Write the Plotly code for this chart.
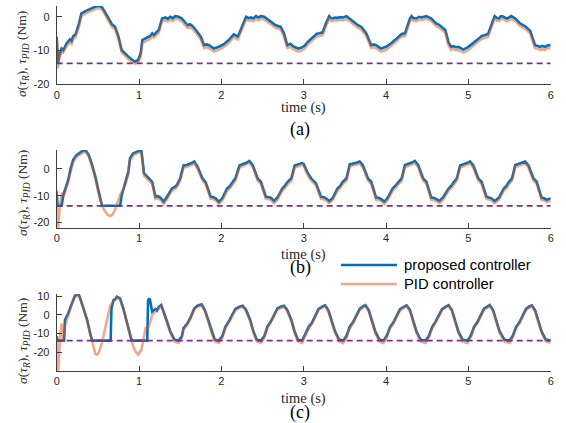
import plotly.graph_objects as go

# ---------------- data (time s, torque Nm) ----------------
a_proposed = [(0.00,-5.9),(0.015,-13.8),(0.03,-11.5),(0.06,-9.4),(0.08,-9.9),(0.12,-7.9),(0.16,-6.7),(0.18,-7.2),(0.20,-5.8),(0.23,-5.2),(0.27,-2.0),(0.30,1.0),(0.35,1.7),(0.39,2.2),(0.43,2.5),(0.47,3.0),(0.51,3.3),(0.55,2.8),(0.59,1.2),(0.63,-0.5),(0.67,-2.2),(0.71,-3.0),(0.75,-5.9),(0.79,-9.9),(0.83,-11.0),(0.87,-11.8),(0.91,-12.6),(0.95,-13.3),(0.99,-12.8),(1.02,-10.8),(1.04,-6.9),(1.10,-6.1),(1.14,-5.6),(1.16,-4.9),(1.18,-5.4),(1.24,-3.9),(1.28,-0.5),(1.32,-0.2),(1.35,-0.6),(1.38,0.0),(1.41,-0.4),(1.44,0.2),(1.48,0.0),(1.52,-0.5),(1.59,-2.5),(1.62,-2.2),(1.65,-2.8),(1.69,-3.9),(1.75,-5.9),(1.79,-8.4),(1.82,-8.2),(1.85,-8.4),(1.91,-9.4),(1.97,-8.9),(2.03,-8.1),(2.09,-6.9),(2.15,-5.2),(2.20,-5.9),(2.26,-2.5),(2.30,0.0),(2.33,-0.4),(2.36,-0.2),(2.39,-0.5),(2.42,0.2),(2.45,-0.2),(2.48,0.2),(2.52,0.0),(2.58,-1.0),(2.62,-1.8),(2.66,-2.5),(2.72,-3.0),(2.76,-4.9),(2.80,-8.4),(2.84,-8.0),(2.87,-8.7),(2.93,-9.4),(2.97,-9.2),(3.01,-8.6),(3.05,-7.4),(3.09,-6.6),(3.13,-5.7),(3.16,-5.0),(3.19,-4.9),(3.23,-4.6),(3.27,-2.0),(3.31,0.2),(3.33,-0.4),(3.35,-0.5),(3.38,-0.2),(3.41,-0.3),(3.45,-0.1),(3.48,-0.2),(3.52,0.2),(3.58,-1.0),(3.62,-1.8),(3.66,-2.5),(3.70,-3.0),(3.73,-3.8),(3.76,-4.9),(3.82,-8.4),(3.85,-8.2),(3.88,-8.4),(3.94,-9.4),(4.00,-8.9),(4.06,-7.9),(4.13,-6.4),(4.16,-5.6),(4.19,-5.1),(4.23,-4.9),(4.29,-0.5),(4.31,0.2),(4.33,-0.4),(4.37,-0.5),(4.40,0.0),(4.43,-0.2),(4.46,0.1),(4.49,0.2),(4.55,-0.5),(4.61,-2.0),(4.64,-2.3),(4.67,-2.8),(4.72,-3.9),(4.76,-7.7),(4.79,-8.9),(4.82,-8.7),(4.85,-9.0),(4.88,-8.9),(4.94,-9.7),(5.00,-8.9),(5.04,-8.2),(5.08,-7.4),(5.12,-6.6),(5.16,-5.7),(5.20,-5.4),(5.24,-5.1),(5.30,-1.0),(5.32,0.2),(5.35,-0.4),(5.37,-0.5),(5.39,0.1),(5.41,0.2),(5.44,-0.2),(5.47,-0.5),(5.50,-0.1),(5.52,0.2),(5.57,-0.5),(5.60,-1.4),(5.63,-2.0),(5.69,-2.8),(5.72,-3.4),(5.75,-4.1),(5.81,-8.4),(5.84,-8.7),(5.87,-8.9),(5.90,-8.6),(5.93,-8.9),(5.96,-8.5),(6.00,-8.4)]

a_pid = [(0.00,-6.5),(0.015,-15.3),(0.03,-12.5),(0.06,-10.2),(0.08,-10.6),(0.12,-8.7),(0.16,-7.5),(0.18,-8.0),(0.20,-6.6),(0.23,-6.0),(0.27,-3.0),(0.30,0.2),(0.35,1.0),(0.39,1.5),(0.43,1.8),(0.47,2.3),(0.51,2.6),(0.55,2.2),(0.59,0.6),(0.63,-1.2),(0.67,-2.9),(0.71,-3.7),(0.75,-6.5),(0.79,-10.6),(0.83,-11.7),(0.87,-12.5),(0.91,-13.3),(0.95,-13.9),(0.99,-13.6),(1.02,-11.8),(1.04,-7.8),(1.10,-6.9),(1.14,-6.4),(1.16,-5.7),(1.18,-6.2),(1.24,-4.7),(1.28,-1.3),(1.32,-1.0),(1.35,-1.4),(1.38,-0.8),(1.41,-1.2),(1.44,-0.6),(1.48,-0.8),(1.52,-1.3),(1.59,-3.3),(1.62,-3.0),(1.65,-3.6),(1.69,-4.7),(1.75,-6.7),(1.79,-9.2),(1.82,-9.0),(1.85,-9.3),(1.91,-10.3),(1.97,-9.8),(2.03,-8.9),(2.09,-7.7),(2.15,-6.0),(2.20,-6.7),(2.26,-3.3),(2.30,-0.8),(2.33,-1.2),(2.36,-1.0),(2.39,-1.3),(2.42,-0.6),(2.45,-1.0),(2.48,-0.6),(2.52,-0.8),(2.58,-1.8),(2.62,-2.6),(2.66,-3.3),(2.72,-3.8),(2.76,-5.7),(2.80,-9.2),(2.84,-8.9),(2.87,-9.6),(2.93,-10.3),(2.97,-10.1),(3.01,-9.4),(3.05,-8.2),(3.09,-7.4),(3.13,-6.5),(3.16,-5.8),(3.19,-5.7),(3.23,-5.4),(3.27,-2.8),(3.31,-0.6),(3.33,-1.2),(3.35,-1.3),(3.38,-1.0),(3.41,-1.1),(3.45,-0.9),(3.48,-1.0),(3.52,-0.6),(3.58,-1.8),(3.62,-2.6),(3.66,-3.3),(3.70,-3.8),(3.73,-4.6),(3.76,-5.7),(3.82,-9.2),(3.85,-9.0),(3.88,-9.3),(3.94,-10.3),(4.00,-9.8),(4.06,-8.7),(4.13,-7.2),(4.16,-6.4),(4.19,-5.9),(4.23,-5.7),(4.29,-1.3),(4.31,-0.6),(4.33,-1.2),(4.37,-1.3),(4.40,-0.8),(4.43,-1.0),(4.46,-0.7),(4.49,-0.6),(4.55,-1.3),(4.61,-2.8),(4.64,-3.1),(4.67,-3.6),(4.72,-4.7),(4.76,-8.5),(4.79,-9.8),(4.82,-9.5),(4.85,-9.9),(4.88,-9.8),(4.94,-10.6),(5.00,-9.8),(5.04,-9.0),(5.08,-8.2),(5.12,-7.4),(5.16,-6.5),(5.20,-6.2),(5.24,-5.9),(5.30,-1.8),(5.32,-0.6),(5.35,-1.2),(5.37,-1.3),(5.39,-0.7),(5.41,-0.6),(5.44,-1.0),(5.47,-1.3),(5.50,-0.9),(5.52,-0.6),(5.57,-1.3),(5.60,-2.2),(5.63,-2.8),(5.69,-3.6),(5.72,-4.2),(5.75,-4.9),(5.81,-9.3),(5.84,-9.6),(5.87,-9.8),(5.90,-9.4),(5.93,-9.8),(5.96,-9.3),(6.00,-9.2)]

b_proposed = [(0.00,-8.5),(0.01,-13.8),(0.06,-13.8),(0.08,-9.8),(0.12,-6.0),(0.14,-4.1),(0.17,0.2),(0.20,3.4),(0.24,5.2),(0.30,6.5),(0.35,7.1),(0.39,5.2),(0.43,1.5),(0.47,-2.9),(0.51,-8.5),(0.55,-13.8),(0.77,-13.8),(0.79,-9.8),(0.83,-5.4),(0.87,-1.0),(0.89,4.0),(0.93,5.9),(0.97,6.4),(1.00,6.8),(1.03,6.6),(1.06,-1.6),(1.09,-2.6),(1.12,-3.5),(1.16,-4.8),(1.20,-10.4),(1.23,-10.2),(1.26,-10.8),(1.30,-12.3),(1.34,-10.4),(1.40,-7.3),(1.43,-6.8),(1.46,-6.0),(1.50,-3.5),(1.54,1.3),(1.58,1.5),(1.61,1.8),(1.64,2.2),(1.67,2.8),(1.71,0.9),(1.77,-3.5),(1.81,-5.0),(1.87,-10.4),(1.90,-10.5),(1.93,-11.0),(1.97,-12.3),(2.01,-11.0),(2.07,-7.3),(2.10,-6.6),(2.13,-5.4),(2.17,-3.5),(2.22,1.3),(2.25,1.6),(2.28,2.1),(2.31,2.4),(2.34,3.0),(2.38,1.5),(2.44,-3.5),(2.48,-4.8),(2.54,-10.4),(2.57,-10.5),(2.60,-10.8),(2.64,-12.0),(2.68,-10.8),(2.74,-7.3),(2.77,-6.4),(2.80,-5.0),(2.85,-3.5),(2.89,1.3),(2.92,1.6),(2.95,1.8),(2.98,2.2),(3.00,1.9),(3.05,-1.6),(3.09,-3.5),(3.15,-5.4),(3.21,-10.4),(3.24,-10.5),(3.27,-11.0),(3.31,-12.0),(3.35,-11.0),(3.41,-7.3),(3.44,-6.5),(3.47,-5.0),(3.52,-3.5),(3.56,1.8),(3.59,1.9),(3.62,2.1),(3.65,2.4),(3.68,2.8),(3.72,1.3),(3.78,-3.5),(3.82,-4.8),(3.88,-10.8),(3.91,-10.8),(3.94,-11.3),(3.98,-12.3),(4.02,-10.8),(4.08,-7.3),(4.11,-6.4),(4.15,-4.8),(4.19,-3.5),(4.23,1.5),(4.26,1.7),(4.29,2.1),(4.32,2.5),(4.35,3.0),(4.39,1.5),(4.45,-3.5),(4.49,-4.8),(4.55,-10.8),(4.58,-10.8),(4.61,-11.3),(4.65,-12.0),(4.69,-10.8),(4.76,-7.3),(4.79,-6.4),(4.82,-5.0),(4.86,-3.5),(4.90,1.3),(4.93,1.6),(4.96,1.9),(4.99,2.3),(5.02,2.8),(5.06,1.3),(5.12,-3.5),(5.16,-4.8),(5.22,-10.4),(5.25,-10.6),(5.28,-11.0),(5.32,-12.0),(5.37,-10.8),(5.43,-7.3),(5.46,-6.5),(5.49,-5.0),(5.53,-3.5),(5.57,1.5),(5.60,1.8),(5.63,2.1),(5.66,2.5),(5.69,2.8),(5.73,1.3),(5.79,-3.5),(5.83,-4.8),(5.89,-10.8),(5.92,-11.0),(5.95,-11.6),(6.00,-11.0)]

b_pid = [(0.00,-8.0),(0.008,-22.0),(0.02,-22.0),(0.035,-15.0),(0.06,-9.0),(0.09,-9.8),(0.12,-6.8),(0.14,-5.0),(0.17,-0.8),(0.20,2.5),(0.24,4.5),(0.30,5.8),(0.35,6.4),(0.39,4.6),(0.43,0.8),(0.47,-3.7),(0.51,-9.3),(0.55,-13.5),(0.58,-15.6),(0.62,-17.2),(0.65,-17.6),(0.68,-17.0),(0.71,-15.2),(0.74,-12.3),(0.77,-9.8),(0.80,-8.0),(0.83,-6.2),(0.87,-2.0),(0.89,3.0),(0.93,5.2),(0.97,5.8),(1.00,6.2),(1.03,6.0),(1.06,-2.4),(1.09,-3.4),(1.12,-4.3),(1.16,-5.6),(1.20,-11.2),(1.23,-11.0),(1.26,-11.6),(1.30,-13.1),(1.34,-11.3),(1.40,-8.1),(1.43,-7.6),(1.46,-6.8),(1.50,-4.4),(1.54,0.5),(1.58,0.8),(1.61,1.1),(1.64,1.5),(1.67,2.1),(1.71,0.2),(1.77,-4.3),(1.81,-5.8),(1.87,-11.2),(1.90,-11.3),(1.93,-11.8),(1.97,-13.1),(2.01,-11.9),(2.07,-8.1),(2.10,-7.4),(2.13,-6.2),(2.17,-4.4),(2.22,0.5),(2.25,0.9),(2.28,1.4),(2.31,1.7),(2.34,2.3),(2.38,0.8),(2.44,-4.3),(2.48,-5.6),(2.54,-11.2),(2.57,-11.3),(2.60,-11.6),(2.64,-12.8),(2.68,-11.6),(2.74,-8.1),(2.77,-7.2),(2.80,-5.8),(2.85,-4.4),(2.89,0.5),(2.92,0.9),(2.95,1.1),(2.98,1.5),(3.00,1.2),(3.05,-2.4),(3.09,-4.3),(3.15,-6.2),(3.21,-11.2),(3.24,-11.3),(3.27,-11.8),(3.31,-12.8),(3.35,-11.8),(3.41,-8.1),(3.44,-7.3),(3.47,-5.8),(3.52,-4.4),(3.56,1.0),(3.59,1.2),(3.62,1.4),(3.65,1.7),(3.68,2.1),(3.72,0.5),(3.78,-4.3),(3.82,-5.6),(3.88,-11.6),(3.91,-11.6),(3.94,-12.1),(3.98,-13.1),(4.02,-11.6),(4.08,-8.1),(4.11,-7.2),(4.15,-5.6),(4.19,-4.4),(4.23,0.7),(4.26,1.0),(4.29,1.4),(4.32,1.8),(4.35,2.3),(4.39,0.8),(4.45,-4.3),(4.49,-5.6),(4.55,-11.6),(4.58,-11.6),(4.61,-12.1),(4.65,-12.8),(4.69,-11.6),(4.76,-8.1),(4.79,-7.2),(4.82,-5.8),(4.86,-4.4),(4.90,0.5),(4.93,0.9),(4.96,1.2),(4.99,1.6),(5.02,2.1),(5.06,0.5),(5.12,-4.3),(5.16,-5.6),(5.22,-11.2),(5.25,-11.4),(5.28,-11.8),(5.32,-12.8),(5.37,-11.6),(5.43,-8.1),(5.46,-7.3),(5.49,-5.8),(5.53,-4.4),(5.57,0.7),(5.60,1.1),(5.63,1.4),(5.66,1.8),(5.69,2.1),(5.73,0.5),(5.79,-4.3),(5.83,-5.6),(5.89,-11.6),(5.92,-11.8),(5.95,-12.4),(6.00,-11.8)]

c_proposed = [(0.00,-11.5),(0.01,-13.8),(0.09,-13.8),(0.10,-2.7),(0.14,0.9),(0.18,6.2),(0.22,10.3),(0.24,10.8),(0.26,11.3),(0.28,9.8),(0.33,3.5),(0.37,-2.7),(0.41,-10.6),(0.43,-13.8),(0.655,-13.8),(0.665,3.5),(0.69,8.0),(0.71,8.5),(0.73,9.8),(0.77,8.9),(0.81,3.5),(0.85,-3.5),(0.89,-10.6),(0.91,-13.8),(1.10,-13.8),(1.11,8.0),(1.13,8.9),(1.16,1.8),(1.18,2.5),(1.20,3.2),(1.22,2.4),(1.24,4.4),(1.27,5.3),(1.30,1.8),(1.34,-3.5),(1.38,-8.9),(1.43,-13.3),(1.48,-13.8),(1.52,-11.5),(1.54,-7.1),(1.59,-4.4),(1.63,-0.9),(1.67,3.5),(1.71,5.0),(1.76,5.7),(1.80,2.7),(1.84,-2.7),(1.88,-8.9),(1.92,-13.3),(1.97,-13.8),(2.01,-11.5),(2.05,-6.2),(2.09,-3.5),(2.13,0.0),(2.17,3.2),(2.22,4.4),(2.26,5.0),(2.30,2.7),(2.35,-2.7),(2.39,-8.9),(2.43,-13.3),(2.48,-13.8),(2.52,-11.5),(2.56,-6.2),(2.60,-3.5),(2.64,0.0),(2.68,3.5),(2.72,4.4),(2.76,5.0),(2.80,2.7),(2.85,-2.7),(2.89,-8.9),(2.93,-13.3),(2.98,-13.8),(3.02,-10.5),(3.06,-6.5),(3.10,-4.2),(3.14,-0.5),(3.18,3.3),(3.23,4.6),(3.26,5.2),(3.30,2.5),(3.34,-2.8),(3.38,-8.8),(3.43,-13.2),(3.48,-13.8),(3.52,-11.2),(3.56,-6.3),(3.60,-3.8),(3.64,-0.3),(3.68,3.3),(3.72,4.6),(3.75,5.3),(3.79,2.6),(3.83,-2.9),(3.87,-9.0),(3.92,-13.3),(3.97,-13.8),(4.01,-11.0),(4.05,-6.4),(4.09,-3.9),(4.13,-0.6),(4.17,3.1),(4.22,4.5),(4.25,5.2),(4.29,2.8),(4.33,-2.6),(4.37,-8.9),(4.42,-13.3),(4.48,-13.8),(4.52,-11.3),(4.56,-6.5),(4.60,-3.7),(4.64,-0.4),(4.68,3.2),(4.73,4.6),(4.76,5.3),(4.80,2.7),(4.84,-2.7),(4.88,-9.0),(4.93,-13.3),(4.99,-13.8),(5.03,-11.0),(5.07,-6.3),(5.11,-3.8),(5.15,-0.6),(5.19,3.4),(5.23,4.5),(5.26,5.4),(5.30,2.6),(5.34,-2.8),(5.38,-8.9),(5.44,-13.4),(5.50,-13.8),(5.54,-11.1),(5.58,-6.4),(5.62,-3.9),(5.66,-0.5),(5.70,3.3),(5.74,4.6),(5.77,5.2),(5.81,2.6),(5.85,-2.8),(5.89,-8.9),(5.94,-13.2),(6.00,-13.8)]

c_pid = [(0.00,-11.0),(0.005,-30.0),(0.02,-30.0),(0.04,-12.0),(0.06,-4.6),(0.08,-13.5),(0.10,-6.0),(0.14,0.0),(0.18,5.5),(0.22,9.5),(0.24,10.0),(0.26,10.8),(0.28,9.2),(0.33,3.0),(0.37,-3.2),(0.41,-11.0),(0.45,-18.6),(0.47,-21.0),(0.49,-21.4),(0.51,-20.4),(0.55,-15.0),(0.59,-7.1),(0.62,-0.9),(0.65,5.0),(0.69,7.5),(0.71,8.0),(0.73,9.3),(0.77,8.4),(0.81,3.0),(0.85,-4.0),(0.89,-11.2),(0.93,-17.0),(0.96,-19.8),(0.99,-21.3),(1.03,-18.6),(1.06,-10.6),(1.08,-7.1),(1.12,-6.2),(1.16,0.0),(1.20,1.8),(1.24,3.8),(1.27,4.8),(1.30,1.3),(1.34,-4.0),(1.38,-9.5),(1.43,-14.3),(1.48,-15.1),(1.52,-12.3),(1.54,-8.0),(1.59,-5.0),(1.63,-1.5),(1.67,3.0),(1.71,4.5),(1.76,5.2),(1.80,2.1),(1.84,-3.3),(1.88,-9.6),(1.92,-14.3),(1.97,-15.1),(2.01,-12.3),(2.05,-7.0),(2.09,-4.1),(2.13,-0.6),(2.17,2.6),(2.22,3.9),(2.26,4.5),(2.30,2.1),(2.35,-3.3),(2.39,-9.6),(2.43,-14.3),(2.48,-15.1),(2.52,-12.3),(2.56,-7.0),(2.60,-4.1),(2.64,-0.6),(2.68,2.9),(2.72,3.9),(2.76,4.5),(2.80,2.1),(2.85,-3.3),(2.89,-9.6),(2.93,-14.3),(2.98,-15.0),(3.02,-11.5),(3.06,-7.2),(3.10,-4.8),(3.14,-1.1),(3.18,2.7),(3.23,4.1),(3.26,4.7),(3.30,1.9),(3.34,-3.4),(3.38,-9.5),(3.43,-14.2),(3.48,-15.1),(3.52,-12.1),(3.56,-7.1),(3.60,-4.4),(3.64,-0.9),(3.68,2.7),(3.72,4.1),(3.75,4.8),(3.79,2.0),(3.83,-3.5),(3.87,-9.7),(3.92,-14.3),(3.97,-15.1),(4.01,-11.9),(4.05,-7.1),(4.09,-4.5),(4.13,-1.2),(4.17,2.5),(4.22,4.0),(4.25,4.7),(4.29,2.2),(4.33,-3.2),(4.37,-9.6),(4.42,-14.3),(4.48,-15.1),(4.52,-12.2),(4.56,-7.2),(4.60,-4.3),(4.64,-1.0),(4.68,2.6),(4.73,4.1),(4.76,4.8),(4.80,2.1),(4.84,-3.3),(4.88,-9.7),(4.93,-14.3),(4.99,-15.1),(5.03,-11.9),(5.07,-7.0),(5.11,-4.4),(5.15,-1.2),(5.19,2.8),(5.23,4.0),(5.26,4.9),(5.30,2.0),(5.34,-3.4),(5.38,-9.6),(5.44,-14.4),(5.50,-15.1),(5.54,-12.0),(5.58,-7.1),(5.62,-4.5),(5.66,-1.1),(5.70,2.7),(5.74,4.1),(5.77,4.7),(5.81,2.0),(5.85,-3.4),(5.89,-9.6),(5.94,-14.2),(6.00,-15.0)]

saturation_limit = -13.8
time_span = [0, 6]
x_ticks = [0, 1, 2, 3, 4, 5, 6]
y_ticks_a = [-20, -10, 0]
y_ticks_b = [-20, -10, 0]
y_ticks_c = [-20, -10, 0, 10]
panel_labels = ["(a)", "(b)", "(c)"]
legend_names = ["proposed controller", "PID controller"]

# ---------------- style ----------------
W, H = 566, 423
BLUE = "#0072BD"
PID_COL = "rgba(217,83,25,0.5)"
PURPLE = "#7E2F8E"
AX = "#404040"
TXT = "#262626"
SERIF = "Liberation Serif"
SANS = "Liberation Sans, Arial"

def px_x(x):
    return x / W

def px_y(y):
    return 1 - y / H

panels = [
    dict(prop=a_proposed, pid=a_pid, yt=y_ticks_a, yr=[-20, 3.2], top=6, bot=84.3,
         ylab_y=54, time_y=108, lab_y=129),
    dict(prop=b_proposed, pid=b_pid, yt=y_ticks_b, yr=[-22, 7.1], top=150, bot=227.7,
         ylab_y=193, time_y=254, lab_y=267),
    dict(prop=c_proposed, pid=c_pid, yt=y_ticks_c, yr=[-30, 11.3], top=294, bot=370.7,
         ylab_y=341, time_y=398, lab_y=412),
]
X0, X1 = 56.7, 550.7

fig = go.Figure()
annotations = []
layout_axes = {}
for i, p in enumerate(panels):
    k = "" if i == 0 else str(i + 1)
    xa, ya = "x" + k, "y" + k
    t1 = [q[0] for q in p["prop"]]
    v1 = [q[1] for q in p["prop"]]
    t2 = [q[0] for q in p["pid"]]
    v2 = [q[1] for q in p["pid"]]
    fig.add_trace(go.Scatter(x=t1, y=v1, mode="lines", line=dict(color=BLUE, width=2.6),
                             xaxis=xa, yaxis=ya, showlegend=False, name=legend_names[0]))
    fig.add_trace(go.Scatter(x=t2, y=v2, mode="lines", line=dict(color=PID_COL, width=2.6),
                             xaxis=xa, yaxis=ya, showlegend=False, name=legend_names[1]))
    fig.add_trace(go.Scatter(x=time_span, y=[saturation_limit, saturation_limit], mode="lines",
                             line=dict(color=PURPLE, width=1.8, dash="6px,4px"),
                             xaxis=xa, yaxis=ya, showlegend=False))
    layout_axes["xaxis" + k] = dict(
        domain=[px_x(X0), px_x(X1)], range=time_span, anchor=ya,
        showline=True, linecolor=AX, linewidth=1, ticks="inside", ticklen=5, tickcolor=AX,
        tickvals=x_ticks, ticktext=[str(v) for v in x_ticks], showgrid=False, zeroline=False,
        tickfont=dict(family=SANS, size=11, color=TXT), automargin=False)
    layout_axes["yaxis" + k] = dict(
        domain=[px_y(p["bot"]), px_y(p["top"])], range=p["yr"], anchor=xa,
        showline=True, linecolor=AX, linewidth=1, ticks="inside", ticklen=5, tickcolor=AX,
        tickvals=p["yt"], ticktext=[str(v) for v in p["yt"]], showgrid=False, zeroline=False,
        tickfont=dict(family=SANS, size=11, color=TXT), automargin=False, ticklabelstandoff=4)
    annotations.append(dict(
        text="<i>σ</i>(<i>τ<sub>R</sub></i>), <i>τ<sub>PID</sub></i> (Nm)",
        x=px_x(23), y=px_y(p["ylab_y"]), xref="paper", yref="paper", textangle=-90,
        showarrow=False, font=dict(family=SERIF, size=13.5, color=TXT),
        xanchor="center", yanchor="middle"))
    annotations.append(dict(
        text="time (s)", x=px_x(303.7), y=px_y(p["time_y"]), xref="paper", yref="paper",
        showarrow=False, font=dict(family=SERIF, size=14.5, color=TXT),
        xanchor="center", yanchor="middle"))
    annotations.append(dict(
        text=panel_labels[i], x=px_x(300), y=px_y(p["lab_y"]), xref="paper", yref="paper",
        showarrow=False, font=dict(family=SERIF, size=18, color="black"),
        xanchor="center", yanchor="middle"))

# manual legend
shapes = []
leg_rows = [(265, BLUE, legend_names[0]), (284, PID_COL, legend_names[1])]
for yy, col, name in leg_rows:
    shapes.append(dict(type="line", xref="paper", yref="paper", x0=px_x(341), x1=px_x(397),
                       y0=px_y(yy), y1=px_y(yy), line=dict(color=col, width=2.6)))
    annotations.append(dict(text=name, x=px_x(402), y=px_y(yy), xref="paper", yref="paper",
                            showarrow=False, xanchor="left", yanchor="middle",
                            font=dict(family=SANS, size=14.8, color="black")))

fig.update_layout(
    width=W, height=H, margin=dict(l=0, r=0, t=0, b=0),
    paper_bgcolor="white", plot_bgcolor="white",
    annotations=annotations, shapes=shapes, showlegend=False,
    **layout_axes)

fig.write_html("out.html", config={"displayModeBar": False},
               post_script="document.body.style.margin='0';document.body.style.overflow='hidden';")
